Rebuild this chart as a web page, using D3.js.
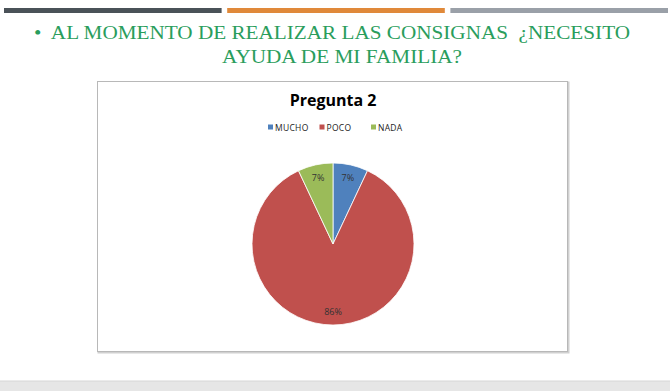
<!DOCTYPE html>
<html>
<head>
<meta charset="utf-8">
<script src="https://cdn.jsdelivr.net/npm/d3@7"></script>
<style>
  html, body { margin: 0; padding: 0; background: #fff; }
  svg { display: block; }
</style>
</head>
<body>
<svg id="slide" width="670" height="391"></svg>
<script>
// chart data
var categories = ['MUCHO', 'POCO', 'NADA'];
var values = [7, 86, 7];
var labels = ['7%', '86%', '7%'];
var colors = ['#4f81bd', '#c0504d', '#9bbb59'];
var headerBars = ['#4a5258', '#e0893a', '#9aa0a8'];

(function() {
    var W = 670, H = 391;
    var svg = d3.select('#slide');

    // top decorative bars
    var barX = d3.scaleBand().domain(d3.range(headerBars.length)).range([4, 668]).paddingInner(0.025);
    svg.selectAll('rect.hdr').data(headerBars).enter().append('rect')
        .attr('class', 'hdr')
        .attr('x', function(d, i) { return barX(i); })
        .attr('y', 8)
        .attr('width', barX.bandwidth())
        .attr('height', 5)
        .style('fill', function(d) { return d; });

    // slide title
    var title = svg.append('text')
        .attr('text-anchor', 'middle')
        .style('font-family', '"Liberation Serif", "DejaVu Serif", serif')
        .style('font-size', '19px')
        .style('white-space', 'pre')
        .style('fill', '#2a9d5c');
    title.append('tspan').attr('x', 332).attr('y', 39)
        .text('\u2022  AL MOMENTO DE REALIZAR LAS CONSIGNAS  \u00bfNECESITO');
    title.append('tspan').attr('x', 342).attr('y', 63)
        .text('AYUDA DE MI FAMILIA?');

    // stretch title lines to the reference width
    var targets = [596, 240];
    title.selectAll('tspan').each(function(d, i) {
        d3.select(this).attr('textLength', targets[i]).attr('lengthAdjust', 'spacingAndGlyphs');
    });

    // bottom grey band
    svg.append('rect').attr('x', 0).attr('y', 381).attr('width', W).attr('height', 10).style('fill', '#e6e6e6');
    svg.append('line').attr('x1', 0).attr('x2', W).attr('y1', 381).attr('y2', 381).style('stroke', '#d6d6d6');

    // chart box
    svg.append('rect')
        .attr('x', 98.5).attr('y', 82.5).attr('width', 470).attr('height', 270)
        .style('fill', 'none').style('stroke', '#d0d0d0').style('stroke-width', 2);
    svg.append('rect')
        .attr('x', 97.5).attr('y', 81.5).attr('width', 470).attr('height', 270)
        .style('fill', '#fff').style('stroke', '#b8b8b8').style('stroke-width', 1);

    // chart title
    svg.append('text')
        .attr('x', 333).attr('y', 106)
        .attr('text-anchor', 'middle')
        .style('font-family', '"Open Sans", "Liberation Sans", sans-serif')
        .style('font-weight', 'bold')
        .style('font-size', '16px')
        .style('fill', '#000')
        .text('Pregunta 2');

    // legend
    var legX = d3.scalePoint().domain(categories).range([268, 371]);
    var leg = svg.selectAll('g.leg').data(categories).enter().append('g')
        .attr('class', 'leg')
        .attr('transform', function(d) { return 'translate(' + legX(d) + ',128)'; });
    leg.append('rect')
        .attr('x', 0).attr('y', -3.5).attr('width', 5).attr('height', 5)
        .style('fill', function(d, i) { return colors[i]; });
    leg.append('text')
        .attr('x', 7).attr('y', 2.5)
        .style('font-family', '"Open Sans", "Liberation Sans", sans-serif')
        .style('font-size', '8.5px')
        .style('letter-spacing', '0.3px')
        .style('fill', '#222')
        .text(function(d) { return d; });

    // pie
    var cx = 333, cy = 244, R = 81;
    var pie = d3.pie().sort(null).value(function(d) { return d; });
    var arcs = pie(values);
    var arc = d3.arc().innerRadius(0).outerRadius(R);
    var labelArc = d3.arc().innerRadius(68).outerRadius(68);

    var g = svg.append('g').attr('transform', 'translate(' + cx + ',' + cy + ')');
    g.selectAll('path').data(arcs).enter().append('path')
        .attr('d', arc)
        .style('fill', function(d, i) { return colors[i]; })
        .style('stroke', '#fff')
        .style('stroke-width', 0.8);

    g.selectAll('text').data(arcs).enter().append('text')
        .attr('transform', function(d) { return 'translate(' + labelArc.centroid(d) + ')'; })
        .attr('text-anchor', 'middle')
        .attr('dy', '0.35em')
        .style('font-family', '"Open Sans", "Liberation Sans", sans-serif')
        .style('font-size', '9px')
        .style('fill', '#333')
        .text(function(d, i) { return labels[i]; });
})();
</script>
</body>
</html>
